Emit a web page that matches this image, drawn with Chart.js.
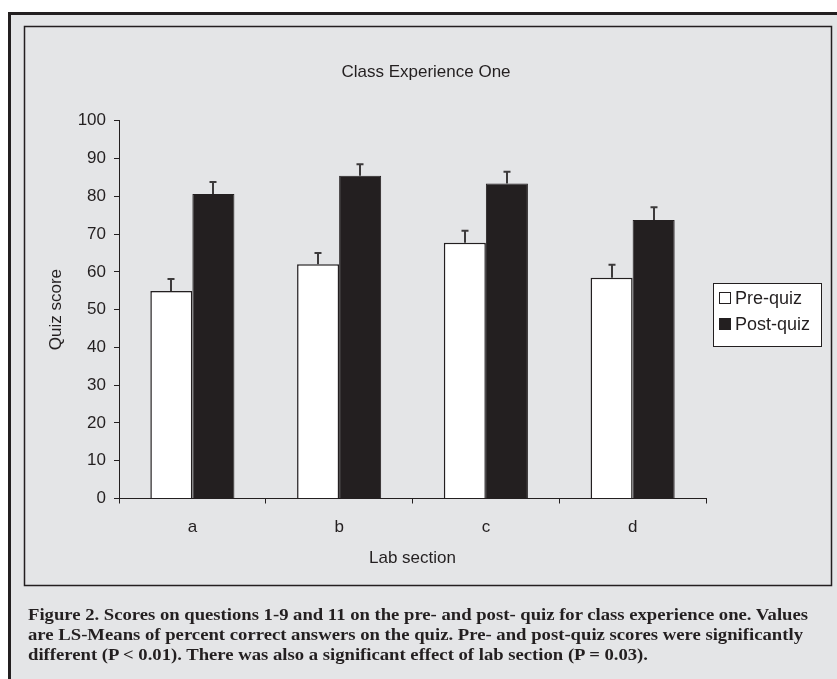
<!DOCTYPE html>
<html>
<head>
<meta charset="utf-8">
<script src="https://cdn.jsdelivr.net/npm/chart.js@4.4.1/dist/chart.umd.min.js"></script>
<style>
  html, body { margin: 0; padding: 0; background: #ffffff; }
  #wrap { position: relative; width: 837px; height: 679px; overflow: hidden; }
  #c { position: absolute; left: 0; top: 0; }
  .cap { position: absolute; left: 28px; font-family: "Liberation Serif", "Times New Roman", serif;
         font-weight: bold; font-size: 16px; color: #231f20; white-space: nowrap;
         transform-origin: 0 50%; line-height: 20px; }
</style>
</head>
<body>
<div id="wrap">
  <canvas id="c" width="837" height="679"></canvas>
  <div class="cap" id="cap1" style="top:605px" data-w="780">Figure 2. Scores on questions 1-9 and 11 on the pre- and post- quiz for class experience one. Values</div>
  <div class="cap" id="cap2" style="top:625px" data-w="775">are LS-Means of percent correct answers on the quiz. Pre- and post-quiz scores were significantly</div>
  <div class="cap" id="cap3" style="top:645px" data-w="620">different (P &lt; 0.01). There was also a significant effect of lab section (P = 0.03).</div>
</div>
<script>
const categories = ['a', 'b', 'c', 'd'];
const preQuiz = [54.9, 62.0, 67.7, 58.4];
const postQuiz = [80.6, 85.4, 83.4, 73.7];
const preErr = [3.2, 3.0, 3.2, 3.5];
const postErr = [3.2, 3.1, 3.1, 3.4];
const yTicks = [0, 10, 20, 30, 40, 50, 60, 70, 80, 90, 100];
const seriesNames = ['Pre-quiz', 'Post-quiz'];
const chartTitle = 'Class Experience One';
const xTitle = 'Lab section';
const yTitle = 'Quiz score';

const INK = '#231f20';
const BG = '#e4e5e7';

const framePlugin = {
  id: 'frame',
  beforeDraw(chart) {
    const ctx = chart.ctx;
    ctx.save();
    ctx.fillStyle = '#ffffff';
    ctx.fillRect(0, 0, chart.width, chart.height);
    ctx.fillStyle = BG;
    ctx.fillRect(8, 12, chart.width - 8, chart.height - 12);
    ctx.strokeStyle = INK;
    ctx.lineWidth = 3;
    ctx.beginPath();
    ctx.moveTo(9.5, chart.height + 5);
    ctx.lineTo(9.5, 13.5);
    ctx.lineTo(chart.width + 5, 13.5);
    ctx.stroke();
    ctx.lineWidth = 1.5;
    ctx.strokeRect(24.5, 26.5, 807, 559);
    ctx.fillStyle = INK;
    ctx.font = '17px "Liberation Sans", Arial, sans-serif';
    ctx.textAlign = 'center';
    ctx.textBaseline = 'middle';
    ctx.fillText(chartTitle, 426, 72);
    ctx.restore();
  }
};

const errorPlugin = {
  id: 'errs',
  afterDatasetsDraw(chart) {
    const ctx = chart.ctx;
    const y = chart.scales.y;
    const errs = [preErr, postErr];
    ctx.save();
    ctx.strokeStyle = '#3c3a3b';
    ctx.lineWidth = 2;
    chart.data.datasets.forEach((ds, di) => {
      const meta = chart.getDatasetMeta(di);
      meta.data.forEach((el, i) => {
        const top = y.getPixelForValue(ds.data[i] + errs[di][i]);
        const x = Math.round(el.x);
        ctx.beginPath();
        ctx.moveTo(x, el.y);
        ctx.lineTo(x, top);
        ctx.moveTo(x - 3.5, top);
        ctx.lineTo(x + 3.5, top);
        ctx.stroke();
      });
    });
    ctx.restore();
  }
};

const legendPlugin = {
  id: 'boxLegend',
  afterDraw(chart) {
    const ctx = chart.ctx;
    ctx.save();
    ctx.fillStyle = '#ffffff';
    ctx.fillRect(713, 283, 108, 63);
    ctx.strokeStyle = INK;
    ctx.lineWidth = 1;
    ctx.strokeRect(713.5, 283.5, 108, 63);
    ctx.font = '18px "Liberation Sans", Arial, sans-serif';
    ctx.textBaseline = 'middle';
    ctx.textAlign = 'left';
    const rows = [298, 324];
    chart.data.datasets.forEach((ds, i) => {
      const cy = rows[i];
      ctx.fillStyle = ds.backgroundColor;
      ctx.fillRect(719.5, cy - 5.5, 11, 11);
      ctx.strokeStyle = INK;
      ctx.lineWidth = 1;
      ctx.strokeRect(719.5, cy - 5.5, 11, 11);
      ctx.fillStyle = INK;
      ctx.fillText(ds.label, 735, cy + 1);
    });
    ctx.restore();
  }
};

new Chart(document.getElementById('c'), {
  type: 'bar',
  data: {
    labels: categories,
    datasets: [
      { label: seriesNames[0], data: preQuiz, backgroundColor: '#ffffff', borderColor: INK, borderWidth: 1.5 },
      { label: seriesNames[1], data: postQuiz, backgroundColor: INK, borderColor: INK, borderWidth: 1 }
    ]
  },
  options: {
    responsive: false,
    animation: false,
    devicePixelRatio: 1,
    layout: { padding: { left: 24, top: 120.7, right: 131, bottom: 93 } },
    datasets: { bar: { categoryPercentage: 0.573, barPercentage: 1.0, borderSkipped: 'bottom' } },
    plugins: {
      legend: { display: false },
      title: { display: false },
      tooltip: { enabled: false }
    },
    scales: {
      x: {
        afterFit(s) { s.height = 87.5; },
        grid: { display: true, drawOnChartArea: false, drawTicks: true, tickLength: 5, color: INK, offset: true },
        border: { display: true, color: INK, width: 1 },
        ticks: { color: INK, font: { family: '"Liberation Sans", Arial, sans-serif', size: 17 }, padding: 14 },
        title: { display: true, text: xTitle, color: INK, font: { family: '"Liberation Sans", Arial, sans-serif', size: 17 }, padding: { top: 0, bottom: 17 } }
      },
      y: {
        min: 0, max: 100,
        afterFit(s) { s.width = 95; },
        afterBuildTicks(s) { s.ticks = yTicks.map(v => ({ value: v })); },
        grid: { display: true, drawOnChartArea: false, drawTicks: true, tickLength: 5, color: INK },
        border: { display: true, color: INK, width: 1 },
        ticks: { color: INK, font: { family: '"Liberation Sans", Arial, sans-serif', size: 17 }, padding: 8 },
        title: { display: true, text: yTitle, color: INK, font: { family: '"Liberation Sans", Arial, sans-serif', size: 17 }, padding: { top: 22, bottom: 0 } }
      }
    }
  },
  plugins: [framePlugin, errorPlugin, legendPlugin]
});

document.querySelectorAll('.cap').forEach(el => {
  const target = parseFloat(el.dataset.w);
  const w = el.getBoundingClientRect().width;
  el.style.transform = 'scaleX(' + (target / w) + ')';
});
</script>
</body>
</html>
